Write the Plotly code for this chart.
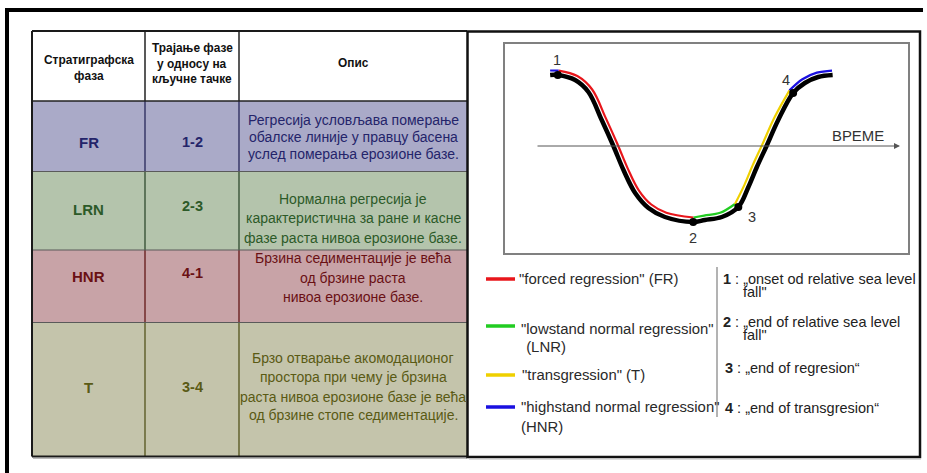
import numpy as np
import plotly.graph_objects as go

W, H = 927, 473
FONT = "Liberation Sans, Arial, sans-serif"

# ---------------- table data ----------------
header_col1 = ["Стратиграфска", "фаза"]
header_col2 = ["Трајање фазе", "у односу на", "кључне тачке"]
header_col3 = ["Опис"]
phases = ["FR", "LRN", "HNR", "T"]
durations = ["1-2", "2-3", "4-1", "3-4"]
descriptions = [
    ["Регресија условљава померање", "обалске линије у правцу басена", "услед померања ерозионе базе."],
    ["Нормална регресија је", "карактеристична за ране и касне", "фазе раста нивоа ерозионе базе."],
    ["Брзина седиментације је већа", "од брзине раста", "нивоа ерозионе базе."],
    ["Брзо отварање акомодационог", "простора при чему је брзина",
     "раста нивоа ерозионе базе је већа", "од брзине стопе седиментације."],
]

# ---------------- sea-level curve data ----------------
time = [11.2, 13.1, 17.4, 20.7, 24.0, 26.9, 29.4, 32.3, 35.6, 39.7, 46.7,
        49.6, 53.8, 57.9, 60.4, 62.5, 64.9, 67.8, 71.5, 74.4, 77.7, 81.3]
level = [7.1, 7.1, 6.6, 5.4, 2.6, 0.0, -2.4, -4.7, -6.2, -7.1, -7.6,
         -7.4, -7.1, -6.1, -4.1, -2.1, 0.0, 2.6, 5.3, 6.3, 6.9, 7.1]
key_labels = ["1", "2", "3", "4"]
key_index = [1, 10, 13, 18]
key_desc = [
    ["„onset od relative sea level", "fall\""],
    ["„end of relative sea level", "fall\""],
    ["„end of regresion“"],
    ["„end of transgresion“"],
]
seg_lines = [['"forced regression" (FR)'],
             ['"lowstand normal regression"', ' (LNR)'],
             ['"transgression" (T)'],
             ['"highstand normal regression"', '(HNR)']]
seg_colors = ["#e8161b", "#22cc22", "#efd000", "#1a10e0"]
seg_bounds = [(1, 10), (10, 13), (13, 18), (18, 21)]
time_label = "ВРЕМЕ"

# ---------------- styles / layout ----------------
row_fill = ["#aaaac8", "#b4c4ac", "#c8a3a7", "#c4c4ab"]
row_text = ["#24246a", "#2c5a28", "#6a1014", "#5a5a14"]
row_line = ["#1c1c50", "#244024", "#5a0a0a", "#4a4a10"]
col_x = [32, 145, 239, 467]
row_y = [31, 101, 171.5, 250, 322.5, 456.5]
label_y = [142, 209, 276, 387]
dur_y = [142, 206, 273, 387]
desc_y = [[120, 137, 154], [199, 218, 238], [258, 278, 297], [358, 377, 397, 415]]

# chart box in pixels
BX0, BX1, BY0, BY1 = 505, 908, 44, 253
XR = [0, 100]
YR = [-10.7, 10.2]
sx = (BX1 - BX0) / (XR[1] - XR[0])
sy = (BY1 - BY0) / (YR[1] - YR[0])

shapes = []
ann = []


def line(x0, y0, x1, y1, color, width, layer="above"):
    shapes.append(dict(type="line", xref="x", yref="y", x0=x0, y0=y0, x1=x1, y1=y1,
                       line=dict(color=color, width=width), layer=layer))


def txt(x, y, s, size, color, bold=False, xanchor="center"):
    ann.append(dict(x=x, y=y, xref="x", yref="y", text=f"<b>{s}</b>" if bold else s,
                    showarrow=False, xanchor=xanchor, yanchor="middle",
                    font=dict(family=FONT, size=size, color=color)))


# outer frame
line(5, 10, 923, 10, "black", 4)
line(7, 8, 7, 473, "black", 4)

# table rows background
for i in range(4):
    shapes.append(dict(type="rect", xref="x", yref="y", x0=col_x[0], x1=col_x[3],
                       y0=row_y[i + 1], y1=row_y[i + 2], fillcolor=row_fill[i],
                       line=dict(width=0), layer="below"))
# table lines
for i in range(4):
    for cx in col_x[1:3]:
        line(cx, row_y[i + 1], cx, row_y[i + 2], row_line[i], 1.2)
for cx in col_x[1:3]:
    line(cx, row_y[0], cx, row_y[1], "#222", 1.5)
for ry in row_y[2:5]:
    line(col_x[0], ry, col_x[3], ry, "#5a5a5a", 1)
line(col_x[0], row_y[1], col_x[3], row_y[1], "#222", 1.5)
line(col_x[0], row_y[0], col_x[3], row_y[0], "#1a1a1a", 2)
line(col_x[0], row_y[5], col_x[3], row_y[5], "#1a1a1a", 2)
line(col_x[0] + 1, row_y[5] + 2, col_x[3], row_y[5] + 2, "#bbbbbb", 1)
line(col_x[0], row_y[0], col_x[0], row_y[5], "#1a1a1a", 2)

# right panel frame
shapes.append(dict(type="rect", xref="x", yref="y", x0=467.5, x1=920, y0=31.5, y1=457,
                   line=dict(color="#111", width=2.5)))
line(469, 459, 921, 459, "#bbbbbb", 1)

# header text
hx = [(col_x[0] + col_x[1]) / 2, (col_x[1] + col_x[2]) / 2, (col_x[2] + col_x[3]) / 2]
for s, y in zip(header_col1, [60, 76]):
    txt(hx[0], y, s, 11.9, "#111", bold=True)
for s, y in zip(header_col2, [48, 63.5, 79]):
    txt(hx[1], y, s, 11.9, "#111", bold=True)
txt(hx[2], 63, header_col3[0], 11.9, "#111", bold=True)

# rows text
for i in range(4):
    txt(hx[0], label_y[i], phases[i], 15, row_text[i], bold=True)
    txt(hx[1], dur_y[i], durations[i], 14.5, row_text[i], bold=True)
    for s, y in zip(descriptions[i], desc_y[i]):
        txt(hx[2], y, s, 14, row_text[i])

# legend samples & texts
sample_y = [279, 326, 375, 407]
legend_text_pos = [[(517, 279)], [(519, 329), (520, 347)], [(520, 375)], [(519, 407), (519, 427)]]
for i in range(4):
    line(486, sample_y[i], 515, sample_y[i], seg_colors[i], 3.5)
    for s, (x, y) in zip(seg_lines[i], legend_text_pos[i]):
        txt(x, y, s, 14.9, "#2a2a2a", xanchor="left")
line(717, 267, 717, 417, "#9a9a9a", 1.5)

key_text_pos = [[(721, 279), (741, 292)], [(721, 322), (741, 335)], [(723, 368)], [(723, 408)]]
for i in range(4):
    for j, (s, (x, y)) in enumerate(zip(key_desc[i], key_text_pos[i])):
        s2 = f"<b>{key_labels[i]}</b> : {s}" if j == 0 else s
        txt(x, y, s2, 14.5, "#222", xanchor="left")

# ---------------- curve ----------------
T = np.array(time, dtype=float)
L = np.array(level, dtype=float)
X = T * sx
Y = -L * sy
tx = np.gradient(X)
ty = np.gradient(Y)
nrm = np.hypot(tx, ty)
nx, ny = ty / nrm, -tx / nrm
OFF = 4.5
T_off = (X + OFF * nx) / sx
L_off = -(Y + OFF * ny) / sy

fig = go.Figure()
fig.add_trace(go.Scatter(x=[0, W], y=[0, H], mode="markers", marker=dict(opacity=0),
                         hoverinfo="skip", showlegend=False))
fig.add_trace(go.Scatter(x=time, y=level, mode="lines", xaxis="x2", yaxis="y2",
                         line=dict(color="black", width=4.5, shape="spline", smoothing=1),
                         hoverinfo="skip", showlegend=False))
# leading blue tail
fig.add_trace(go.Scatter(x=T_off[0:2], y=L_off[0:2], mode="lines", xaxis="x2", yaxis="y2",
                         line=dict(color=seg_colors[3], width=2.2),
                         hoverinfo="skip", showlegend=False))
for (a, b), c in zip(seg_bounds, seg_colors):
    fig.add_trace(go.Scatter(x=T_off[a:b + 1], y=L_off[a:b + 1], mode="lines",
                             xaxis="x2", yaxis="y2",
                             line=dict(color=c, width=2.2, shape="spline", smoothing=1),
                             hoverinfo="skip", showlegend=False))
fig.add_trace(go.Scatter(x=[time[k] for k in key_index], y=[level[k] for k in key_index],
                         mode="markers", xaxis="x2", yaxis="y2",
                         marker=dict(color="black", size=8),
                         hoverinfo="skip", showlegend=False))

label_shift = [(-1, 15), (0, -16), (14, -10), (-7, 13)]
for lab, k, (dx, dy) in zip(key_labels, key_index, label_shift):
    ann.append(dict(x=time[k], y=level[k], xref="x2", yref="y2", text=lab, showarrow=False,
                    xshift=dx, yshift=dy, font=dict(family=FONT, size=14.5, color="#333")))

# time axis arrow
ann.append(dict(x=(900 - BX0) / sx, y=0, ax=(536 - BX0) / sx, ay=0, xref="x2", yref="y2",
                axref="x2", ayref="y2", text="", showarrow=True, arrowhead=2,
                arrowsize=1.2, arrowwidth=1, arrowcolor="#555"))
ann.append(dict(x=(858 - BX0) / sx, y=0, xref="x2", yref="y2", text=time_label,
                showarrow=False, yshift=10, font=dict(family=FONT, size=14.9, color="#333")))

fig.update_layout(
    width=W, height=H, margin=dict(l=0, r=0, t=0, b=0),
    paper_bgcolor="white", plot_bgcolor="rgba(0,0,0,0)",
    xaxis=dict(range=[0, W], visible=False, domain=[0, 1], fixedrange=True),
    yaxis=dict(range=[H, 0], visible=False, domain=[0, 1], fixedrange=True),
    xaxis2=dict(range=XR, domain=[BX0 / W, BX1 / W], anchor="y2", showgrid=False,
                zeroline=False, showticklabels=False, ticks="", showline=True,
                mirror=True, linecolor="#808080", linewidth=1.5, fixedrange=True),
    yaxis2=dict(range=YR, domain=[1 - BY1 / H, 1 - BY0 / H], anchor="x2", showgrid=False,
                zeroline=False, showticklabels=False, ticks="", showline=True,
                mirror=True, linecolor="#808080", linewidth=1.5, fixedrange=True),
    shapes=shapes, annotations=ann, showlegend=False,
)

fig.write_html("out.html", config={"displayModeBar": False})

# remove the browser's default page margin so the figure sits at (0, 0)
with open("out.html", "r", encoding="utf-8") as f:
    html = f.read()
html = html.replace("<body>", '<body style="margin:0;padding:0;overflow:hidden">', 1)
with open("out.html", "w", encoding="utf-8") as f:
    f.write(html)
